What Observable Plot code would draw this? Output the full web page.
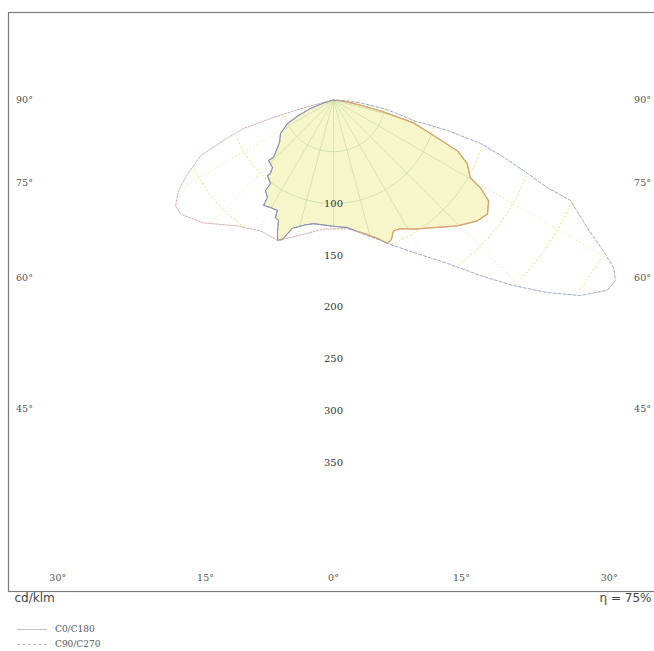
<!DOCTYPE html>
<html><head><meta charset="utf-8">
<script src="https://cdn.jsdelivr.net/npm/d3@7"></script>
<script src="https://cdn.jsdelivr.net/npm/@observablehq/plot@0.6"></script>
<style>
html,body{margin:0;padding:0;background:#fff;overflow:hidden;width:654px;height:651px;}
#chart svg{display:block;overflow:hidden;}
#legend{font-family:"DejaVu Serif",serif;font-size:9px;color:#555;padding-top:10px;}
#legend .row{height:15px;line-height:15px;display:flex;align-items:center;}
#legend .sw{width:30px;margin-left:17px;margin-right:8px;height:0;border-top:1px solid #c4c4c4;}
#legend .sw.dash{border-top:1px dashed #c4c4c4;}
</style>
</head><body>
<div id="chart"></div>
<div id="legend"></div>
<script>
// ---- data (angle from nadir in degrees, intensity in cd/klm) ----
const c0Angles = [-90,-85,-80,-76,-75,-73.5,-72.3,-70.3,-67.2,-63.1,-59.6,-56.1,-53.3,-46.6,-37.3,-29.1,-21.7,-15,-10,-4.4,0,6,12,18,20.6,22.5,24.6,27.4,32,37.2,44.5,50,53.5,56.9,59.1,60.3,64.5,67.6,69.9,74,76.5,78.7,81,84,87,90];
const c0Values = [0,0,0,15,33,63,91,109,139,158,173.5,183.7,184.2,172.8,152.9,144.8,146,136,130,125,124.5,125,131,141,148,146,139,140,147,155,170.6,181.5,185,178.6,165.4,152,143,129.4,106.9,80.3,49.6,29.5,14,4,0,0];
const c90Angles = [-90,-80,-75,-72,-69.5,-66,-62.8,-57.6,-52,-49.6,-46.2,-47,-42.1,-40.6,-41.1,-37,-36.9,-34.1,-33.5,-30.3,-26.9,-26.3,-24.5,-23.2,-21.7,-20.2,-17.7,-13,-9.2,0,6.3,12,18.5,20.6,27.7,34.9,39.9,44.1,48,51.6,55.2,57.4,59.1,60.8,63.3,67,67.7,69.6,71.5,73.5,75,75.6,78,80.2,83.2,86,90];
const c90Values = [0,0,3,12,24,37,49.9,60.6,66,70.9,80.3,85.8,87.9,93.5,96.9,101,109.3,113.7,122.3,120.4,119.7,126.6,127.9,137.2,146,144,130,124,121,122,124,132,143,148,166.3,192.5,221,249.6,278,304,322,323,315,298,274,248.5,223,195.7,172,148,113.9,79.7,62,49,29,12,0];
const gridAngles = [-90,-75,-60,-45,-30,-15,0,15,30,45,60,75,90];
const gridRadii = [50,100,150,200,250,300,350];
const radialLabels = [100,150,200,250,300,350];
const sideAngles = [90,75,60,45];
const bottomAngles = [30,15,0];
const unitLabel = "cd/klm";
const effLabel = "η = 75%";
const legendLabels = ["C0/C180","C90/C270"];

// ---- geometry helpers ----
const rad = d => d * Math.PI / 180;
const polar = (angles, values) => angles.map((a, i) => ({x: values[i] * Math.sin(rad(a)), y: values[i] * Math.cos(rad(a))}));
const c0Pts = polar(c0Angles, c0Values);
const c90Pts = polar(c90Angles, c90Values);
const arcPts = gridRadii.flatMap(r => d3.range(-90, 90.01, 2).map(a => ({r, x: r * Math.sin(rad(a)), y: r * Math.cos(rad(a))})));
const rayEnd = 420;
const W = 298.3, B = 461;
function labelPos(a) {
  const s = Math.sign(a) || 1, aa = Math.abs(a);
  if (aa >= 90) return {x: s * W, y: 0};
  const t = Math.tan(rad(aa));
  if (B * t <= W) return {x: s * B * t, y: B};
  return {x: s * W, y: W / t};
}
const angleLabelData = [...sideAngles.flatMap(a => [-a, a]), ...bottomAngles.flatMap(a => a === 0 ? [0] : [-a, a])]
  .map(a => ({...labelPos(a), t: Math.abs(a) + "°"}));

const k = 1.036;
const outerGridStyle = {stroke: "#e6df70", strokeWidth: 1, strokeDasharray: "1,3"};
const innerGridStyle = {stroke: "#c3dba6", strokeWidth: 0.7};

const markNames = [];
function named(name, mark) { markNames.push(name); return mark; }

const svg = Plot.plot({
  width: 654, height: 612,
  marginLeft: 8, marginRight: -4, marginTop: 12, marginBottom: 21,
  x: {domain: [-325 / k, 325 / k], axis: null},
  y: {domain: [-87.4 / k, 491.6 / k], reverse: true, axis: null},
  style: {background: "#fff", overflow: "hidden"},
  marks: [
    named("go-arcs", Plot.line(arcPts, {x: "x", y: "y", z: "r", ...outerGridStyle})),
    named("go-rays", Plot.link(gridAngles, {x1: () => 0, y1: () => 0, x2: a => rayEnd * Math.sin(rad(a)), y2: a => rayEnd * Math.cos(rad(a)), ...outerGridStyle})),
    named("fill", Plot.line(c0Pts, {x: "x", y: "y", fill: "#f7f6cb", stroke: "none"})),
    named("gi-arcs", Plot.line(arcPts, {x: "x", y: "y", z: "r", ...innerGridStyle})),
    named("gi-rays", Plot.link(gridAngles, {x1: () => 0, y1: () => 0, x2: a => rayEnd * Math.sin(rad(a)), y2: a => rayEnd * Math.cos(rad(a)), ...innerGridStyle})),
    named("c0-line", Plot.line(c0Pts, {x: "x", y: "y", stroke: "#cfa0a0", strokeWidth: 0.9, strokeDasharray: "2,1.5"})),
    named("c90-line", Plot.line(c90Pts, {x: "x", y: "y", stroke: "#8d9cc6", strokeWidth: 0.9, strokeDasharray: "3,2"})),
    named("c0-inner", Plot.line(c0Pts, {x: "x", y: "y", stroke: "#d8a468", strokeWidth: 1.3})),
    named("c90-inner", Plot.line(c90Pts, {x: "x", y: "y", stroke: "#8a93ad", strokeWidth: 1.1})),
    named("frame", Plot.frame({stroke: "#7a7a7a", strokeWidth: 1.2})),
    named("rlabels", Plot.text(radialLabels, {x: () => 0, y: d => d, text: d => String(d), fontFamily: "DejaVu Serif", fontSize: 10, fill: "#333"})),
    named("alabels", Plot.text(angleLabelData, {x: "x", y: "y", text: "t", fontFamily: "DejaVu Serif", fontSize: 9.5, fill: "#555"})),
    named("unit", Plot.text([unitLabel], {frameAnchor: "bottom-left", dx: 6, dy: 10, textAnchor: "start", fontFamily: "DejaVu Sans", fontSize: 12, fill: "#444"})),
    named("eff", Plot.text([effLabel], {frameAnchor: "bottom-right", dx: -7, dy: 10, textAnchor: "end", fontFamily: "DejaVu Sans", fontSize: 12, fill: "#444"}))
  ]
});

// ---- clipping of grid / fill to the curves ----
const ns = "http://www.w3.org/2000/svg";
const kids = [...svg.children].filter(e => !["style", "defs", "title", "desc"].includes(e.tagName.toLowerCase()));
const byName = {};
markNames.forEach((n, i) => byName[n] = kids[i]);
const getG = l => byName[l];
const firstPath = el => el.tagName.toLowerCase() === "path" ? el : el.querySelector("path");
const dA = firstPath(getG("c0-line")).getAttribute("d");
const dB = firstPath(getG("c90-line")).getAttribute("d");
const defs = document.createElementNS(ns, "defs");
function addClip(id, ds) {
  const cp = document.createElementNS(ns, "clipPath");
  cp.setAttribute("id", id);
  ds.forEach(d => { const p = document.createElementNS(ns, "path"); p.setAttribute("d", d); cp.appendChild(p); });
  defs.appendChild(cp);
}
addClip("clipA", [dA]); addClip("clipB", [dB]); addClip("clipU", [dA, dB]);
svg.insertBefore(defs, svg.firstChild);
function clip(label, id) { const g = getG(label); g.setAttribute("clip-path", `url(#${id})`); return g; }
function clip2(label, id1, id2) {
  const g = clip(label, id1);
  const w = document.createElementNS(ns, "g");
  w.setAttribute("clip-path", `url(#${id2})`);
  g.parentNode.insertBefore(w, g); w.appendChild(g);
}
clip("go-arcs", "clipU"); clip("go-rays", "clipU");
clip("fill", "clipB");
clip2("gi-arcs", "clipB", "clipA"); clip2("gi-rays", "clipB", "clipA");
clip("c0-inner", "clipB"); clip("c90-inner", "clipA");

document.getElementById("chart").appendChild(svg);

// ---- legend ----
const leg = document.getElementById("legend");
legendLabels.forEach((t, i) => {
  const row = document.createElement("div"); row.className = "row";
  const sw = document.createElement("span"); sw.className = "sw" + (i ? " dash" : "");
  const tx = document.createElement("span"); tx.textContent = t;
  row.appendChild(sw); row.appendChild(tx); leg.appendChild(row);
});
</script>
</body></html>
